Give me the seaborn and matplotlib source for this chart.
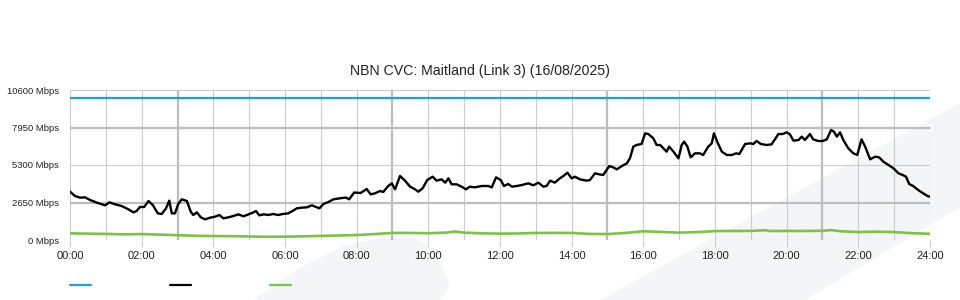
import matplotlib
matplotlib.use("Agg")
import matplotlib.pyplot as plt
from matplotlib.lines import Line2D
from matplotlib.patches import Polygon
import seaborn as sns
import pandas as pd

# ---------------- data ----------------
title = "NBN CVC: Maitland (Link 3) (16/08/2025)"
capacity_hours = [0, 24]
capacity_mbps = [10000, 10000]

down_hours = [0, 0.14, 0.28, 0.42, 0.56, 0.75, 0.98, 1.10, 1.26, 1.44, 1.63, 1.77, 1.86, 1.95,
              2.07, 2.19, 2.31, 2.45, 2.56, 2.68, 2.77, 2.84, 2.93, 3.02, 3.12, 3.26, 3.37, 3.44,
              3.54, 3.65, 3.77, 3.91, 4.05, 4.17, 4.28, 4.42, 4.56, 4.70, 4.84, 4.98, 5.10, 5.19,
              5.28, 5.41, 5.53, 5.67, 5.81, 5.94, 6.09, 6.21, 6.33, 6.47, 6.61, 6.75, 6.84, 6.96,
              7.07, 7.21, 7.35, 7.53, 7.70, 7.79, 7.93, 8.11, 8.28, 8.39, 8.51, 8.65, 8.74, 8.88,
              8.98, 9.07, 9.21, 9.35, 9.49, 9.63, 9.72, 9.84, 9.97, 10.12, 10.23, 10.37, 10.47,
              10.56, 10.65, 10.79, 10.93, 11.05, 11.16, 11.30, 11.49, 11.67, 11.77, 11.89, 12.02,
              12.11, 12.23, 12.33, 12.47, 12.61, 12.79, 12.93, 13.07, 13.21, 13.30, 13.40, 13.53,
              13.67, 13.77, 13.88, 14.00, 14.09, 14.23, 14.42, 14.51, 14.65, 14.77, 14.88, 15.05,
              15.16, 15.26, 15.40, 15.54, 15.63, 15.72, 15.81, 15.95, 16.05, 16.14, 16.28, 16.37,
              16.47, 16.56, 16.65, 16.72, 16.84, 16.98, 17.07, 17.14, 17.23, 17.32, 17.44, 17.58,
              17.67, 17.81, 17.91, 17.97, 18.06, 18.19, 18.33, 18.47, 18.59, 18.68, 18.84, 18.98,
              19.07, 19.16, 19.28, 19.44, 19.58, 19.77, 19.89, 20.00, 20.09, 20.19, 20.33, 20.42,
              20.51, 20.65, 20.74, 20.88, 21.01, 21.12, 21.24, 21.32, 21.40, 21.49, 21.58, 21.72,
              21.86, 21.97, 22.09, 22.19, 22.33, 22.47, 22.58, 22.70, 22.84, 22.98, 23.12, 23.24,
              23.33, 23.42, 23.53, 23.67, 23.81, 23.93, 24.00]
down_mbps = [3415, 3109, 2990, 3015, 2827, 2638, 2450, 2662, 2520, 2403, 2167, 1955, 2050, 2332,
             2332, 2756, 2473, 1884, 1837, 2238, 2780, 1884, 1884, 2544, 2874, 2756, 2002, 1767,
             1955, 1602, 1460, 1578, 1649, 1767, 1531, 1602, 1696, 1814, 1673, 1814, 1931, 2050,
             1743, 1814, 1767, 1837, 1767, 1837, 1884, 2050, 2238, 2285, 2309, 2450, 2356, 2238,
             2544, 2685, 2874, 2945, 3000, 2874, 3355, 3320, 3604, 3227, 3298, 3463, 3392, 3816,
             4004, 3580, 4523, 4193, 3769, 3580, 3415, 3651, 4240, 4475, 4193, 4287, 4051,
             4358, 3934, 3934, 3769, 3580, 3769, 3722, 3816, 3816, 3722, 4428, 4240,
             3816, 3957, 3769, 3816, 3886, 4004, 3863, 4051, 3769, 3816, 4193, 4051,
             4358, 4523, 4757, 4358, 4475, 4287, 4193, 4240, 4711, 4640, 4593, 5227,
             5133, 4992, 5227, 5415, 5800, 6597, 6714, 6784, 7537, 7490, 7184, 6714,
             6714, 6479, 6243, 6597, 6243, 5770, 6714, 6950, 6597, 5842, 6124, 6124,
             6007, 6597, 6833, 7537, 6950, 6243, 6007, 6007, 6124, 6078, 6784, 6833,
             6784, 6996, 6784, 6714, 6760, 7490, 7490, 7608, 7467, 7017, 7067, 7302,
             7067, 7490, 7114, 6996, 6996, 7114, 7773, 7655, 7302, 7608, 7067, 6479,
             6124, 6007, 7114, 6597, 5701, 5887, 5842, 5533, 5300, 5067, 4711, 4593,
             4475, 3957, 3816, 3533, 3298, 3109, 3059]

up_hours = [0, 0.5, 1, 1.5, 2, 2.5, 3, 3.5, 4, 4.5, 5, 5.5, 6, 6.5, 7, 7.5, 8, 8.5, 9, 9.5,
            10, 10.5, 10.75, 11, 11.5, 12, 12.5, 13, 13.5, 14, 14.5, 15, 15.5, 16, 16.5, 17,
            17.5, 18, 18.5, 19, 19.4, 19.5, 20, 20.5, 21, 21.25, 21.5, 22, 22.5, 23, 23.5, 24]
up_mbps = [470, 450, 430, 400, 420, 380, 340, 300, 280, 270, 250, 230, 236, 260, 290, 320,
           350, 420, 500, 500, 480, 520, 600, 520, 470, 450, 460, 500, 500, 500, 430, 420,
           500, 620, 570, 520, 560, 630, 640, 640, 690, 640, 640, 640, 650, 700, 620, 560,
           590, 560, 480, 440]

y_ticks = [0, 2650, 5300, 7950, 10600]
y_tick_labels = [f"{v} Mbps" for v in y_ticks]
x_ticks = list(range(0, 25, 2))
x_tick_labels = [f"{h:02d}:00" for h in x_ticks]

BLUE = "#1ba1e2"
BLACK = "#000000"
GREEN = "#7dc242"
WM = "#f4f5f7"

# ---------------- figure ----------------
sns.set_theme(style="white")
plt.rcParams["font.family"] = ["Liberation Sans", "DejaVu Sans"]

W, H = 960, 300
fig = plt.figure(figsize=(W / 100, H / 100), dpi=100, facecolor="white")

def fpt(x, y):
    return (x / W, 1 - y / H)

# watermark shapes (background decoration)
band = [fpt(600, 300), fpt(960, 103), fpt(960, 207), fpt(805, 300)]
swoosh = [fpt(253, 300), fpt(300, 268), fpt(343, 246), fpt(380, 238), fpt(413, 237),
          fpt(435, 250), fpt(450, 285), fpt(440, 300)]
for poly in (band, swoosh):
    fig.patches.append(Polygon(poly, closed=True, transform=fig.transFigure,
                               facecolor=WM, edgecolor="none", zorder=0))

ax = fig.add_axes([70 / W, 60 / H, 860 / W, 150 / H])
ax.set_zorder(2)
ax.set_facecolor("none")
ax.patch.set_alpha(0)

df_cap = pd.DataFrame({"h": capacity_hours, "v": capacity_mbps})
df_down = pd.DataFrame({"h": down_hours, "v": down_mbps})
df_up = pd.DataFrame({"h": up_hours, "v": up_mbps})

sns.lineplot(data=df_cap, x="h", y="v", ax=ax, color=BLUE, linewidth=1.6, zorder=4)
sns.lineplot(data=df_down, x="h", y="v", ax=ax, color=BLACK, linewidth=1.7, zorder=5)
sns.lineplot(data=df_up, x="h", y="v", ax=ax, color=GREEN, linewidth=1.9, zorder=4)

ax.set_xlim(0, 24)
ax.set_ylim(0, 10600)
ax.set_xlabel("")
ax.set_ylabel("")

# grid lines
for hr in range(0, 25):
    thick = hr in (3, 9, 15, 21)
    ax.axvline(hr, color="#bdbdbd" if thick else "#cccccc",
               linewidth=1.6 if thick else 0.8, zorder=1)
for v in y_ticks:
    thick = v in (2650, 7950)
    ax.axhline(v, color="#bdbdbd" if thick else "#cccccc",
               linewidth=1.6 if thick else 0.8, zorder=1)

for s in ax.spines.values():
    s.set_visible(False)

ax.set_xticks(x_ticks)
ax.set_xticklabels(x_tick_labels, fontsize=8, color="#222222")
ax.set_yticks(y_ticks)
ax.set_yticklabels(y_tick_labels, fontsize=6.8, color="#222222")
ax.tick_params(axis="x", length=5, width=0.8, color="#cccccc", pad=3, bottom=True)
ax.tick_params(axis="y", length=0, pad=8)

fig.text(0.5, fpt(0, 70.5)[1], title, ha="center", va="center", fontsize=10.2, color="#222222")

# legend swatches (no text)
for (x0, x1), c in zip([(70, 91), (170, 191), (270, 291)], [BLUE, BLACK, GREEN]):
    fig.add_artist(Line2D([x0 / W, x1 / W], [fpt(0, 285)[1]] * 2, color=c,
                          linewidth=1.6, transform=fig.transFigure))

fig.savefig("out.png", dpi=100, facecolor="white")
